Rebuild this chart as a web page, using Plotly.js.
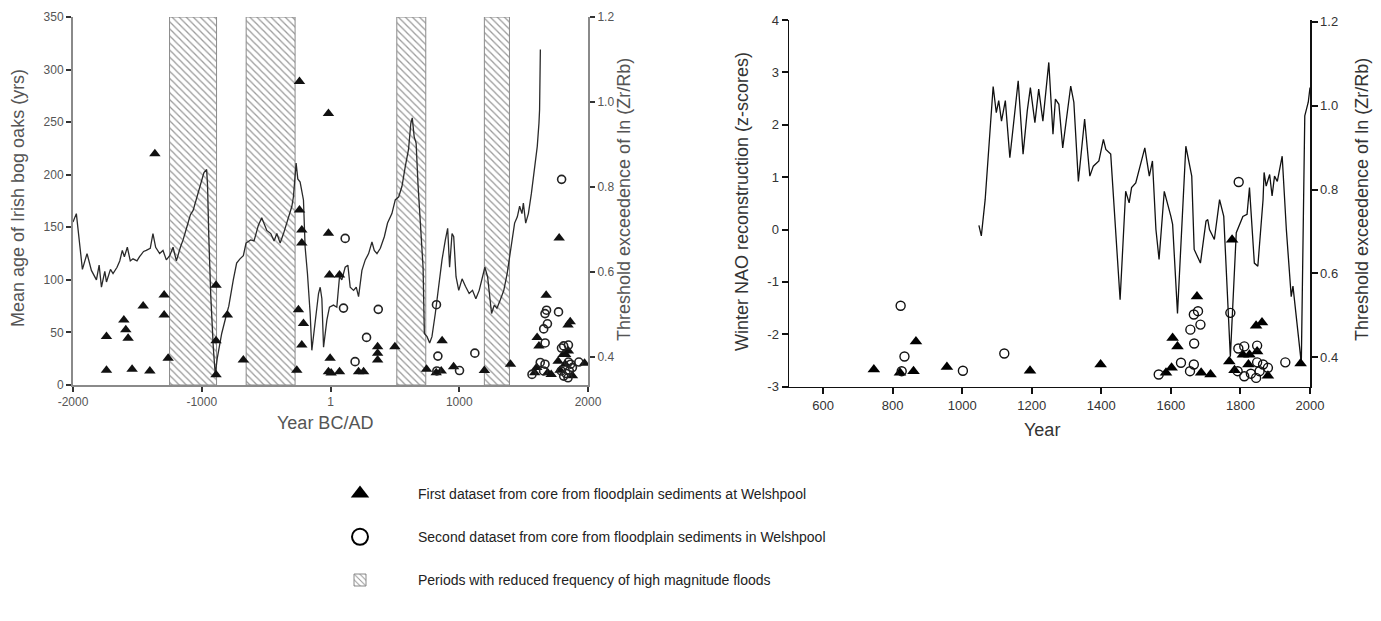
<!DOCTYPE html>
<html>
<head>
<meta charset="utf-8">
<script src="https://cdn.plot.ly/plotly-3.0.1.min.js"></script>
<style>html,body{margin:0;padding:0;background:#fff;}#chart{width:1381px;height:621px;}</style>
</head>
<body>
<div id="chart"></div>
<script>
// ---------------- DATA ----------------
// Left panel: mean age of Irish bog oaks (years) vs year BC/AD
const oakYears = [-2000,-1974,-1927,-1891,-1857,-1818,-1797,-1779,-1753,-1740,-1709,-1689,-1658,-1637,-1617,-1601,-1578,-1555,-1534,-1503,-1483,-1452,-1431,-1400,-1379,-1358,-1327,-1301,-1275,-1249,-1223,-1197,-1166,-1145,-1114,-1088,-1067,-1040,-1010,-983,-962,-955,-945,-930,-910,-895,-880,-845,-806,-790,-755,-729,-703,-677,-656,-620,-594,-560,-534,-495,-464,-438,-417,-391,-365,-334,-300,-288,-267,-254,-236,-210,-197,-179,-158,-145,-119,-93,-80,-67,-54,-28,-8,23,49,70,88,114,135,153,179,200,218,244,270,296,322,340,361,387,418,443,477,503,530,555,581,606,624,635,650,665,680,697,719,729,750,770,788,814,840,866,892,910,925,944,957,975,996,1022,1048,1077,1103,1129,1155,1181,1199,1220,1233,1251,1272,1293,1319,1346,1372,1390,1409,1430,1451,1469,1487,1498,1516,1537,1560,1585,1606,1619,1624,1630];
const oakAge = [155,163,110,125,109,100,114,93,108,98,110,106,112,118,128,122,131,118,120,118,122,127,128,130,144,131,125,128,119,123,131,118,131,138,151,162,166,178,190,202,205,190,140,85,35,10,25,49,68,75,100,116,120,123,135,138,137,152,159,147,144,137,144,135,144,157,170,179,211,196,193,176,131,106,68,33,62,87,93,82,36,62,74,76,74,103,100,112,114,93,90,93,84,109,119,125,136,128,125,130,141,154,163,176,179,189,208,224,249,254,236,230,190,151,112,49,46,40,46,68,93,119,138,149,112,144,141,103,90,101,94,87,90,82,90,103,112,103,87,68,76,73,81,90,106,122,138,154,160,170,163,173,154,163,182,205,227,249,262,319];

// Right panel: winter NAO reconstruction (z-scores)
const naoYears = [1048,1055,1066,1089,1098,1105,1113,1124,1137,1148,1161,1175,1187,1196,1209,1220,1232,1249,1261,1268,1278,1289,1312,1321,1334,1352,1367,1377,1393,1406,1413,1427,1442,1454,1470,1480,1487,1499,1525,1538,1547,1557,1566,1581,1600,1605,1619,1643,1660,1667,1685,1701,1706,1711,1725,1740,1752,1771,1788,1807,1819,1826,1840,1850,1865,1868,1874,1884,1891,1898,1906,1920,1932,1946,1951,1975,1985,1995,2000];
const naoZ = [0.08,-0.12,0.57,2.73,2.23,2.46,2.07,2.46,1.37,2.11,2.84,1.44,2.26,2.71,2.04,2.68,2.07,3.19,1.82,2.49,2.39,1.56,2.74,2.43,0.92,2.11,1.02,1.21,1.31,1.72,1.53,1.44,0.0,-1.34,0.73,0.51,0.80,0.89,1.56,1.02,1.31,0.0,-0.57,0.73,0.25,0.10,-1.60,1.59,1.02,-0.38,-0.64,0.16,0.19,0.0,-0.19,0.57,0.25,-2.43,-0.06,0.25,0.29,0.80,-0.64,-0.70,0.57,1.09,0.83,1.05,0.64,1.02,0.92,1.40,0.0,-1.28,-1.08,-2.55,2.17,2.43,2.71];

// First dataset (triangles): threshold exceedence of ln(Zr/Rb)
const triYears = [-1740,-1740,-1605,-1590,-1572,-1541,-1455,-1403,-1364,-1292,-1292,-1261,-889,-889,-889,-801,-677,-262,-249,-241,-241,-223,-223,-210,-223,-16,-16,-8,70,-3,-16,5,70,218,257,366,366,366,500,746,821,860,867,956,1195,1398,1586,1602,1605,1619,1675,1687,1714,1776,1768,1783,1807,1826,1823,1845,1862,1848,1879,1973];
const triThr = [0.448,0.369,0.487,0.464,0.444,0.371,0.520,0.367,0.878,0.546,0.499,0.397,0.569,0.438,0.358,0.499,0.393,0.369,0.511,1.048,0.746,0.699,0.668,0.479,0.428,0.973,0.691,0.593,0.593,0.397,0.365,0.362,0.365,0.365,0.365,0.424,0.409,0.393,0.424,0.371,0.363,0.367,0.438,0.377,0.368,0.383,0.363,0.375,0.446,0.426,0.545,0.363,0.359,0.680,0.390,0.369,0.406,0.406,0.383,0.475,0.483,0.414,0.356,0.385];

// Second dataset (circles): threshold exceedence of ln(Zr/Rb)
const circYears = [114,101,371,280,191,823,834,826,1002,1121,1565,1629,1655,1656,1667,1666,1666,1678,1685,1771,1795,1792,1794,1811,1811,1830,1845,1848,1848,1855,1865,1879,1929];
const circThr = [0.679,0.515,0.512,0.446,0.389,0.523,0.402,0.367,0.368,0.409,0.359,0.387,0.367,0.466,0.433,0.383,0.502,0.510,0.478,0.506,0.818,0.367,0.421,0.426,0.355,0.361,0.351,0.428,0.388,0.367,0.383,0.375,0.388];

// Periods with reduced frequency of high magnitude floods
const periodStart = [-1250, -655, 515, 1195];
const periodEnd = [-885, -275, 740, 1390];

// Axis ranges / tick labels
const leftYearRange = [-2000, 2000];
const rightYearRange = [502, 2000];
const leftXTicks = [-2000, -1000, 1, 1000, 2000];
const leftXText = ['-2000', '-1000', '1', '1000', '2000'];
const rightXTicks = [600, 800, 1000, 1200, 1400, 1600, 1800, 2000];
const naoTicks = [-3, -2, -1, 0, 1, 2, 3, 4];
const naoText = ['-3', '-2', '-1', '0', '1', '2', '3', '4'];
const thrTicks = [0.4, 0.6, 0.8, 1.0, 1.2];
const thrText = ['0.4', '0.6', '0.8', '1.0', '1.2'];

const legendNames = [
  'First dataset from core from floodplain sediments at Welshpool',
  'Second dataset from core from floodplain sediments in Welshpool',
  'Periods with reduced frequency of high magnitude floods'
];

// ---------------- LAYOUT HELPERS ----------------
const W = 1381, H = 621;
const fx = p => p / W;
const fy = p => 1 - p / H;
const FONT = 'Arial, "Liberation Sans", Helvetica, sans-serif';
const OAK_MAX = 350;

const periodCenter = periodStart.map((s, i) => (s + periodEnd[i]) / 2);
const periodWidth = periodStart.map((s, i) => periodEnd[i] - s);

// subsets of the datasets that fall inside the right panel's year range
function inRange(xs, ys, r) {
  const ox = [], oy = [];
  xs.forEach((x, i) => { if (x >= r[0] && x <= r[1]) { ox.push(x); oy.push(ys[i]); } });
  return { x: ox, y: oy };
}
const triRight = inRange(triYears, triThr, rightYearRange);
const circRight = inRange(circYears, circThr, rightYearRange);

const traces = [
  {
    type: 'bar', x: periodCenter, y: periodCenter.map(() => OAK_MAX), width: periodWidth,
    xaxis: 'x', yaxis: 'y', name: legendNames[2], legendgroup: 'c', legendrank: 3,
    marker: { color: 'white', line: { color: '#8a8a8a', width: 1 },
      pattern: { shape: '\\', fgcolor: '#9a9a9a', bgcolor: 'white', size: 5, solidity: 0.25 } },
    hoverinfo: 'skip'
  },
  {
    type: 'scatter', mode: 'lines', x: oakYears, y: oakAge, xaxis: 'x', yaxis: 'y',
    line: { color: '#2a2a2a', width: 1.3 }, showlegend: false
  },
  {
    type: 'scatter', mode: 'markers', x: triYears, y: triThr, xaxis: 'x', yaxis: 'y2',
    marker: { symbol: 'triangle-up', size: 10, color: '#111' }, showlegend: false
  },
  {
    type: 'scatter', mode: 'markers', x: circYears, y: circThr, xaxis: 'x', yaxis: 'y2',
    marker: { symbol: 'circle-open', size: 8, color: '#222', line: { width: 1.6 } }, showlegend: false
  },
  {
    type: 'scatter', mode: 'lines', x: naoYears, y: naoZ, xaxis: 'x2', yaxis: 'y3',
    line: { color: '#111', width: 1.3 }, showlegend: false
  },
  {
    type: 'scatter', mode: 'markers', x: triRight.x, y: triRight.y, xaxis: 'x2', yaxis: 'y4',
    marker: { symbol: 'triangle-up', size: 11, color: '#000' }, showlegend: false
  },
  {
    type: 'scatter', mode: 'markers', x: circRight.x, y: circRight.y, xaxis: 'x2', yaxis: 'y4',
    marker: { symbol: 'circle-open', size: 9, color: '#111', line: { width: 1.4 } }, showlegend: false
  },
  // legend entries
  {
    type: 'scatter', mode: 'markers', x: [null], y: [null], xaxis: 'x', yaxis: 'y2',
    name: legendNames[0], legendgroup: 'a', legendrank: 1,
    marker: { symbol: 'triangle-up', size: 16, color: '#000' }
  },
  {
    type: 'scatter', mode: 'markers', x: [null], y: [null], xaxis: 'x', yaxis: 'y2',
    name: legendNames[1], legendgroup: 'b', legendrank: 2,
    marker: { symbol: 'circle-open', size: 16, color: '#000', line: { width: 2 } }
  }
];

const leftAxisCommon = {
  showline: true, linecolor: '#8a8a8a', linewidth: 2, showgrid: false, zeroline: false,
  ticks: 'outside', ticklen: 5, tickwidth: 2, tickcolor: '#333',
  tickfont: { family: FONT, size: 12, color: '#555' }
};
const rightAxisCommon = {
  showline: true, linecolor: '#111', linewidth: 1.5, showgrid: false, zeroline: false,
  ticks: 'outside', ticklen: 6, tickwidth: 2, tickcolor: '#111',
  tickfont: { family: FONT, size: 13, color: '#333' }
};

const layout = {
  width: W, height: H,
  margin: { l: 0, r: 0, t: 0, b: 0 },
  paper_bgcolor: 'white', plot_bgcolor: 'rgba(0,0,0,0)',
  font: { family: FONT },
  bargap: 0,
  xaxis: Object.assign({}, leftAxisCommon, {
    domain: [fx(73), fx(588)], range: leftYearRange, anchor: 'y',
    tickvals: leftXTicks, ticktext: leftXText
  }),
  yaxis: Object.assign({}, leftAxisCommon, {
    domain: [fy(385), fy(17)], range: [0, OAK_MAX], anchor: 'x', dtick: 50, tick0: 0
  }),
  yaxis2: Object.assign({}, leftAxisCommon, {
    overlaying: 'y', side: 'right', anchor: 'x', range: [0.334, 1.2],
    tickvals: thrTicks, ticktext: thrText
  }),
  xaxis2: Object.assign({}, rightAxisCommon, {
    domain: [fx(789), fx(1310)], range: rightYearRange, anchor: 'y3',
    tickvals: rightXTicks
  }),
  yaxis3: Object.assign({}, rightAxisCommon, {
    domain: [fy(386.7), fy(20)], range: [-3, 4], anchor: 'x2',
    tickvals: naoTicks, ticktext: naoText
  }),
  yaxis4: Object.assign({}, rightAxisCommon, {
    overlaying: 'y3', side: 'right', anchor: 'x2', range: [0.330, 1.204],
    tickvals: thrTicks, ticktext: thrText
  }),
  showlegend: true,
  legend: {
    x: fx(302), y: fy(478), xanchor: 'left', yanchor: 'top',
    traceorder: 'grouped', tracegroupgap: 22, itemwidth: 106,
    font: { family: FONT, size: 14, color: '#222' },
    bgcolor: 'rgba(0,0,0,0)', borderwidth: 0
  },
  annotations: [
    { text: 'Mean age of Irish bog oaks (yrs)', x: fx(18), y: fy(198), textangle: -90 },
    { text: 'Threshold exceedence of ln (Zr/Rb)', x: fx(624), y: fy(200), textangle: -90 },
    { text: 'Year BC/AD', x: fx(325), y: fy(423) },
  ].map(a => Object.assign({ xref: 'paper', yref: 'paper', showarrow: false, xanchor: 'center', yanchor: 'middle',
      font: { family: FONT, size: 18, color: '#555' } }, a)).concat([
    { text: 'Winter NAO reconstruction (z-scores)', x: fx(742), y: fy(202), textangle: -90 },
    { text: 'Threshold exceedence of ln (Zr/Rb)', x: fx(1362), y: fy(200), textangle: -90 },
    { text: 'Year', x: fx(1042), y: fy(430) }
  ].map(a => Object.assign({ xref: 'paper', yref: 'paper', showarrow: false, xanchor: 'center', yanchor: 'middle',
      font: { family: FONT, size: 18, color: '#333' } }, a)))
};

Plotly.newPlot('chart', traces, layout, { staticPlot: true, displayModeBar: false });
</script>
</body>
</html>
